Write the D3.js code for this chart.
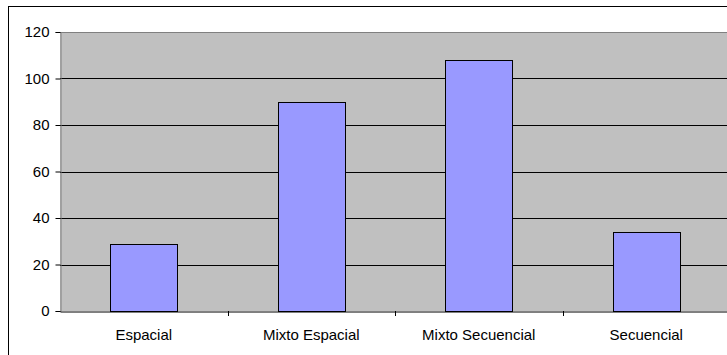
<!DOCTYPE html>
<html>
<head>
<meta charset="utf-8">
<script src="https://cdn.jsdelivr.net/npm/d3@7"></script>
<style>
  body { margin: 0; background: #fff; }
  svg { display: block; font-family: "Liberation Sans", Arial, sans-serif; }
</style>
</head>
<body>
<svg id="chart" width="727" height="355"></svg>
<script>
const categories = ["Espacial", "Mixto Espacial", "Mixto Secuencial", "Secuencial"];
const values = [29, 90, 108, 34];
const yTicks = [0, 20, 40, 60, 80, 100, 120];

const svg = d3.select('#chart');

// outer frame (right and bottom edges fall outside the picture)
svg.append('rect')
    .attr('x', 8.5).attr('y', 6.5)
    .attr('width', 740).attr('height', 360)
    .attr('fill', 'none').attr('stroke', '#000');

const plotLeft = 60, plotTop = 32, plotRight = 730, plotBottom = 311;

const x = d3.scaleBand().domain(categories).range([plotLeft, plotRight]).paddingInner(0.6).paddingOuter(0.3);
const xb = d3.scaleBand().domain(categories).range([plotLeft, plotRight]);
const y = d3.scaleLinear().domain([0, 120]).range([plotBottom, plotTop]);

svg.append('rect')
    .attr('x', plotLeft).attr('y', plotTop)
    .attr('width', plotRight - plotLeft).attr('height', plotBottom - plotTop)
    .attr('fill', '#c0c0c0');
svg.append('line')
    .attr('x1', plotLeft).attr('x2', plotRight)
    .attr('y1', plotTop + 0.5).attr('y2', plotTop + 0.5)
    .attr('stroke', '#808080');

// grid lines
svg.append('g')
    .selectAll('line')
    .data(yTicks.filter(d => d > 0 && d < 120))
    .join('line')
    .attr('x1', plotLeft).attr('x2', plotRight)
    .attr('y1', d => Math.round(y(d)) + 0.5)
    .attr('y2', d => Math.round(y(d)) + 0.5)
    .attr('stroke', '#000');

// bars
svg.append('g')
    .selectAll('rect')
    .data(values)
    .join('rect')
    .attr('x', (d, i) => Math.round(x(categories[i])) + 0.5)
    .attr('y', d => Math.round(y(d)) + 0.5)
    .attr('width', Math.round(x.bandwidth()))
    .attr('height', d => Math.round(y(0)) - Math.round(y(d)))
    .attr('fill', '#9999ff')
    .attr('stroke', '#000');

// y axis
const yAxis = svg.append('g')
    .attr('transform', `translate(${plotLeft + 0.5},0)`)
    .call(d3.axisLeft(y).tickValues(yTicks).tickSize(5).tickPadding(6).tickFormat(d3.format('d')));
yAxis.select('.domain').attr('stroke', '#808080');
yAxis.selectAll('.tick line').attr('stroke', '#000');
yAxis.selectAll('text').attr('font-size', 15).attr('fill', '#000')
    .attr('font-family', '"Liberation Sans", Arial, sans-serif');

// x axis
const xAxis = svg.append('g')
    .attr('transform', `translate(0,${plotBottom + 0.5})`)
    .call(d3.axisBottom(xb).tickSize(0).tickPadding(18));
xAxis.select('.domain').attr('stroke', '#000');
xAxis.selectAll('text').attr('font-size', 15).attr('fill', '#000')
    .attr('font-family', '"Liberation Sans", Arial, sans-serif');

// category separator ticks
svg.append('g')
    .selectAll('line')
    .data(categories.slice(1))
    .join('line')
    .attr('x1', d => Math.round(xb(d)) + 0.5)
    .attr('x2', d => Math.round(xb(d)) + 0.5)
    .attr('y1', plotBottom).attr('y2', plotBottom + 5)
    .attr('stroke', '#000');
</script>
</body>
</html>
